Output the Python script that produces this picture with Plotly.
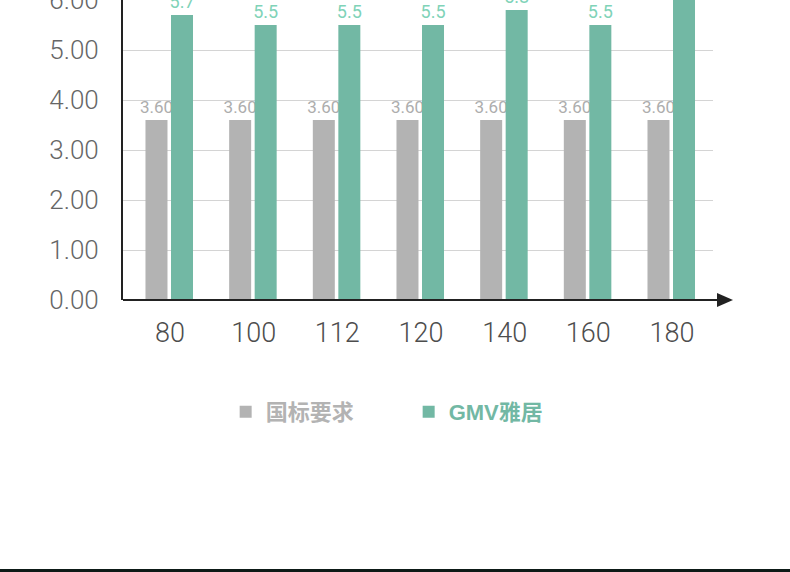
import plotly.graph_objects as go

# Chart data
sizes = ["80", "100", "112", "120", "140", "160", "180"]
gb_values = [3.60, 3.60, 3.60, 3.60, 3.60, 3.60, 3.60]
gmv_values = [5.7, 5.5, 5.5, 5.5, 5.8, 5.5, 6.3]
y_ticks = [0, 1, 2, 3, 4, 5, 6]
series_names = ["国标要求", "GMV雅居"]
y_max = 6

GRAY = "#b3b3b3"
GREEN = "#72b8a4"
LABEL_GREEN = "#80d3b8"
NUM_FONT = "Roboto"

fig = go.Figure()

# national standard bars
fig.add_trace(
    go.Bar(
        x=sizes,
        y=gb_values,
        name=f"<span style='color:{GRAY}'>{series_names[0]}</span>",
        marker=dict(color=GRAY, line=dict(width=0)),
        width=0.263,
        offset=-0.293,
        text=[f"{v:.2f}" for v in gb_values],
        textposition="outside",
        constraintext="none",
        textfont=dict(family=NUM_FONT, size=17, color="#adadad", weight=400),
        cliponaxis=True,
    )
)

# GMV bars (label hidden when the bar runs past the top of the axis)
fig.add_trace(
    go.Bar(
        x=sizes,
        y=gmv_values,
        name=f"<span style='color:{GREEN}'>{series_names[1]}</span>",
        marker=dict(color=GREEN, line=dict(width=0)),
        width=0.263,
        offset=0.012,
        text=[f"{v:.1f}" if v <= y_max else "" for v in gmv_values],
        textposition="outside",
        constraintext="none",
        textfont=dict(family=NUM_FONT, size=18, color=LABEL_GREEN, weight=400),
        cliponaxis=True,
    )
)

# x axis line with arrow head, and the bottom border
fig.add_shape(type="line", xref="paper", yref="paper", x0=0, x1=1.01, y0=0, y1=0,
              line=dict(color="#222222", width=2))
fig.add_shape(type="path", xref="paper", yref="paper",
              path="M 1.0068 0.0233 L 1.0339 0 L 1.0068 -0.0233 Z",
              fillcolor="#222222", line=dict(width=0))
fig.add_shape(type="line", xref="paper", yref="paper", x0=-0.21, x1=1.14,
              y0=-0.9017, y1=-0.9017, line=dict(color="#0d1a17", width=3))

fig.update_xaxes(
    type="category",
    range=[-0.5617, 6.49],
    automargin=False,
    showgrid=False,
    showline=False,
    ticks="",
    ticklabelstandoff=14,
    tickfont=dict(family=NUM_FONT, size=27, color="#4d4d4d", weight=300),
)
fig.update_yaxes(
    range=[0, y_max],
    automargin=False,
    tickvals=y_ticks,
    tickformat=".2f",
    ticklabeloverflow="allow",
    showgrid=True,
    gridcolor="#d4d4d4",
    gridwidth=1,
    zeroline=False,
    showline=True,
    linecolor="#222222",
    linewidth=2,
    ticks="",
    ticklabelstandoff=17,
    tickfont=dict(family=NUM_FONT, size=26, color="#666666", weight=300),
)

fig.update_layout(
    width=790,
    height=572,
    margin=dict(l=123, r=77, t=0, b=272, autoexpand=False),
    paper_bgcolor="white",
    plot_bgcolor="white",
    barmode="group",
    showlegend=True,
    legend=dict(
        orientation="h",
        x=0.174,
        xanchor="left",
        y=-0.373,
        yanchor="middle",
        entrywidth=138,
        font=dict(family="Liberation Sans, Noto Sans CJK SC", size=22, weight="bold"),
        bgcolor="rgba(0,0,0,0)",
    ),
)

# drop the default page margin so the figure sits at the window corner
fig.write_html(
    "out.html",
    config={"displayModeBar": False},
    post_script="document.body.style.margin = '0';",
)
